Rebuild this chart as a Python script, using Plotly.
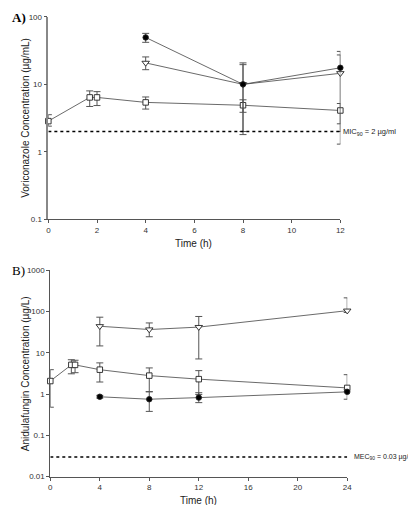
import plotly.graph_objects as go

# ---------------- Panel A: Voriconazole (µg/mL) ----------------
a_sq_t = [0, 1.7, 2, 4, 8, 12]
a_sq_v = [2.85, 6.4, 6.4, 5.4, 4.9, 4.1]
a_sq_hi = [3.55, 8.0, 7.8, 6.5, 5.9, 5.2]
a_sq_lo = [2.4, 4.7, 4.85, 4.3, 3.85, 2.6]

a_ci_t = [4, 8, 12]
a_ci_v = [49.6, 10.0, 17.6]
a_ci_hi = [57, 20.8, 30.8]
a_ci_lo = [42, 1.8, 1.3]

a_tr_t = [4, 8, 12]
a_tr_v = [20.8, 10.0, 14.6]
a_tr_hi = [25.5, 19.6, 27.3]
a_tr_lo = [16.5, 2.0, 2.0]

a_mic = 2
a_xticks = [0, 2, 4, 6, 8, 10, 12]
a_yticks = [0.1, 1, 10, 100]
a_yticklabels = ["0.1", "1", "10", "100"]

# ---------------- Panel B: Anidulafungin (µg/L) ----------------
b_sq_t = [0, 1.7, 2, 4, 8, 12, 24]
b_sq_v = [2.07, 5.1, 5.1, 3.9, 2.8, 2.3, 1.41]
b_sq_hi = [3.9, 6.8, 6.6, 5.7, 4.3, 3.7, 2.95]
b_sq_lo = [0.48, 3.1, 3.3, 1.96, 1.13, 0.98, 1.15]

b_ci_t = [4, 8, 12, 24]
b_ci_v = [0.86, 0.75, 0.82, 1.13]
b_ci_hi = [0.93, 1.15, 1.08, 1.3]
b_ci_lo = [0.8, 0.38, 0.62, 0.75]

b_tr_t = [4, 8, 12, 24]
b_tr_v = [44, 36.7, 42, 105]
b_tr_hi = [73, 53, 76, 215]
b_tr_lo = [14.7, 24.5, 7.1, 95]

b_mec = 0.03
b_xticks = [0, 4, 8, 12, 16, 20, 24]
b_yticks = [0.01, 0.1, 1, 10, 100, 1000]
b_yticklabels = ["0.01", "0.1", "1", "10", "100", "1000"]

W, H = 416, 505
FONT = "Liberation Sans, Arial, sans-serif"
LINE = "#444444"
ERR = "#555555"


def px_x(p):
    return p / W


def px_y(p):
    return 1 - p / H


fig = go.Figure()


def add_series(t, v, hi, lo, symbol, fill, xa, ya, size):
    fig.add_trace(go.Scatter(
        x=t, y=v, mode="lines+markers",
        xaxis=xa, yaxis=ya,
        line=dict(color=LINE, width=0.8),
        marker=dict(symbol=symbol, size=size, color=fill,
                    line=dict(color="#222222", width=0.9)),
        error_y=dict(type="data", symmetric=False,
                     array=[h - m for h, m in zip(hi, v)],
                     arrayminus=[m - l for m, l in zip(v, lo)],
                     color=ERR, thickness=1, width=3.5),
        showlegend=False, cliponaxis=False,
    ))


# Panel A traces
add_series(a_sq_t, a_sq_v, a_sq_hi, a_sq_lo, "square", "white", "x", "y", 5.5)
add_series(a_tr_t, a_tr_v, a_tr_hi, a_tr_lo, "triangle-down", "white", "x", "y", 6.5)
add_series(a_ci_t, a_ci_v, a_ci_hi, a_ci_lo, "circle", "black", "x", "y", 5.5)
fig.add_trace(go.Scatter(x=[a_xticks[0], a_xticks[-1]], y=[a_mic, a_mic], mode="lines",
                         xaxis="x", yaxis="y", line=dict(color="black", width=1.5, dash="dot"),
                         showlegend=False, hoverinfo="skip"))

# Panel B traces
add_series(b_tr_t, b_tr_v, b_tr_hi, b_tr_lo, "triangle-down", "white", "x2", "y2", 6.5)
add_series(b_sq_t, b_sq_v, b_sq_hi, b_sq_lo, "square", "white", "x2", "y2", 5.5)
add_series(b_ci_t, b_ci_v, b_ci_hi, b_ci_lo, "circle", "black", "x2", "y2", 5.5)
fig.add_trace(go.Scatter(x=[b_xticks[0], b_xticks[-1]], y=[b_mec, b_mec], mode="lines",
                         xaxis="x2", yaxis="y2", line=dict(color="black", width=1.5, dash="dot"),
                         showlegend=False, hoverinfo="skip"))

tickfont = dict(family=FONT, size=8, color="#333333")
common_x = dict(showgrid=False, zeroline=False, showline=True, linecolor="#555555",
                linewidth=1, ticks="outside", ticklen=3, tickcolor="#555555",
                tickfont=tickfont)
common_y = dict(showgrid=False, zeroline=False, showline=True, linecolor="#888888",
                linewidth=1.5, ticks="outside", ticklen=3, tickcolor="#555555",
                tickfont=tickfont, type="log")

fig.update_layout(
    width=W, height=H,
    margin=dict(l=0, r=0, t=0, b=0),
    paper_bgcolor="white", plot_bgcolor="white",
    xaxis=dict(common_x, domain=[px_x(39), px_x(336)], range=[0, 12],
               tickvals=a_xticks, anchor="y"),
    yaxis=dict(common_y, domain=[px_y(211), px_y(5)], range=[-1, 2],
               tickvals=a_yticks, ticktext=a_yticklabels, anchor="x"),
    xaxis2=dict(common_x, domain=[px_x(41), px_x(343)], range=[0, 24],
                tickvals=b_xticks, anchor="y2"),
    yaxis2=dict(common_y, domain=[px_y(473), px_y(263)], range=[-2, 3],
                tickvals=b_yticks, ticktext=b_yticklabels, anchor="x2",
                linecolor="#555555", linewidth=1),
    font=dict(family=FONT, color="#222222"),
)

ann = []
titlefont = dict(family=FONT, size=10, color="#222222")
# axis titles
ann.append(dict(text="Time (h)", x=px_x(187), y=px_y(236), xref="paper", yref="paper",
                showarrow=False, font=titlefont, xanchor="center", yanchor="middle"))
ann.append(dict(text="Time (h)", x=px_x(192), y=px_y(497), xref="paper", yref="paper",
                showarrow=False, font=titlefont, xanchor="center", yanchor="middle"))
ann.append(dict(text="Voriconazole Concentration (µg/mL)", x=px_x(15), y=px_y(108),
                xref="paper", yref="paper", showarrow=False, font=titlefont,
                textangle=-90, xanchor="center", yanchor="middle"))
ann.append(dict(text="Anidulafungin Concentration (µg/L)", x=px_x(16), y=px_y(368),
                xref="paper", yref="paper", showarrow=False, font=titlefont,
                textangle=-90, xanchor="center", yanchor="middle"))
# panel labels
ann.append(dict(text="<b>A)</b>", x=0, y=px_y(6), xref="paper", yref="paper",
                showarrow=False, xanchor="left", yanchor="middle",
                font=dict(family="Liberation Serif, Times New Roman, serif", size=13, color="black")))
ann.append(dict(text="B)", x=0, y=px_y(263), xref="paper", yref="paper",
                showarrow=False, xanchor="left", yanchor="middle",
                font=dict(family="Liberation Serif, Times New Roman, serif", size=13, color="black")))
# reference-line labels
ann.append(dict(text="MIC<sub>90</sub> = 2 µg/ml", x=a_xticks[-1], y=0.301, xref="x", yref="y",
                xshift=1, showarrow=False, xanchor="left", yanchor="middle",
                font=dict(family=FONT, size=7.5, color="#222222")))
ann.append(dict(text="MEC<sub>90</sub> = 0.03 µg/ml", x=px_x(415), y=-1.523, xref="paper", yref="y2",
                showarrow=False, xanchor="right", yanchor="middle",
                font=dict(family=FONT, size=7, color="#222222")))
fig.update_layout(annotations=ann)

fig.write_html("out.html")
